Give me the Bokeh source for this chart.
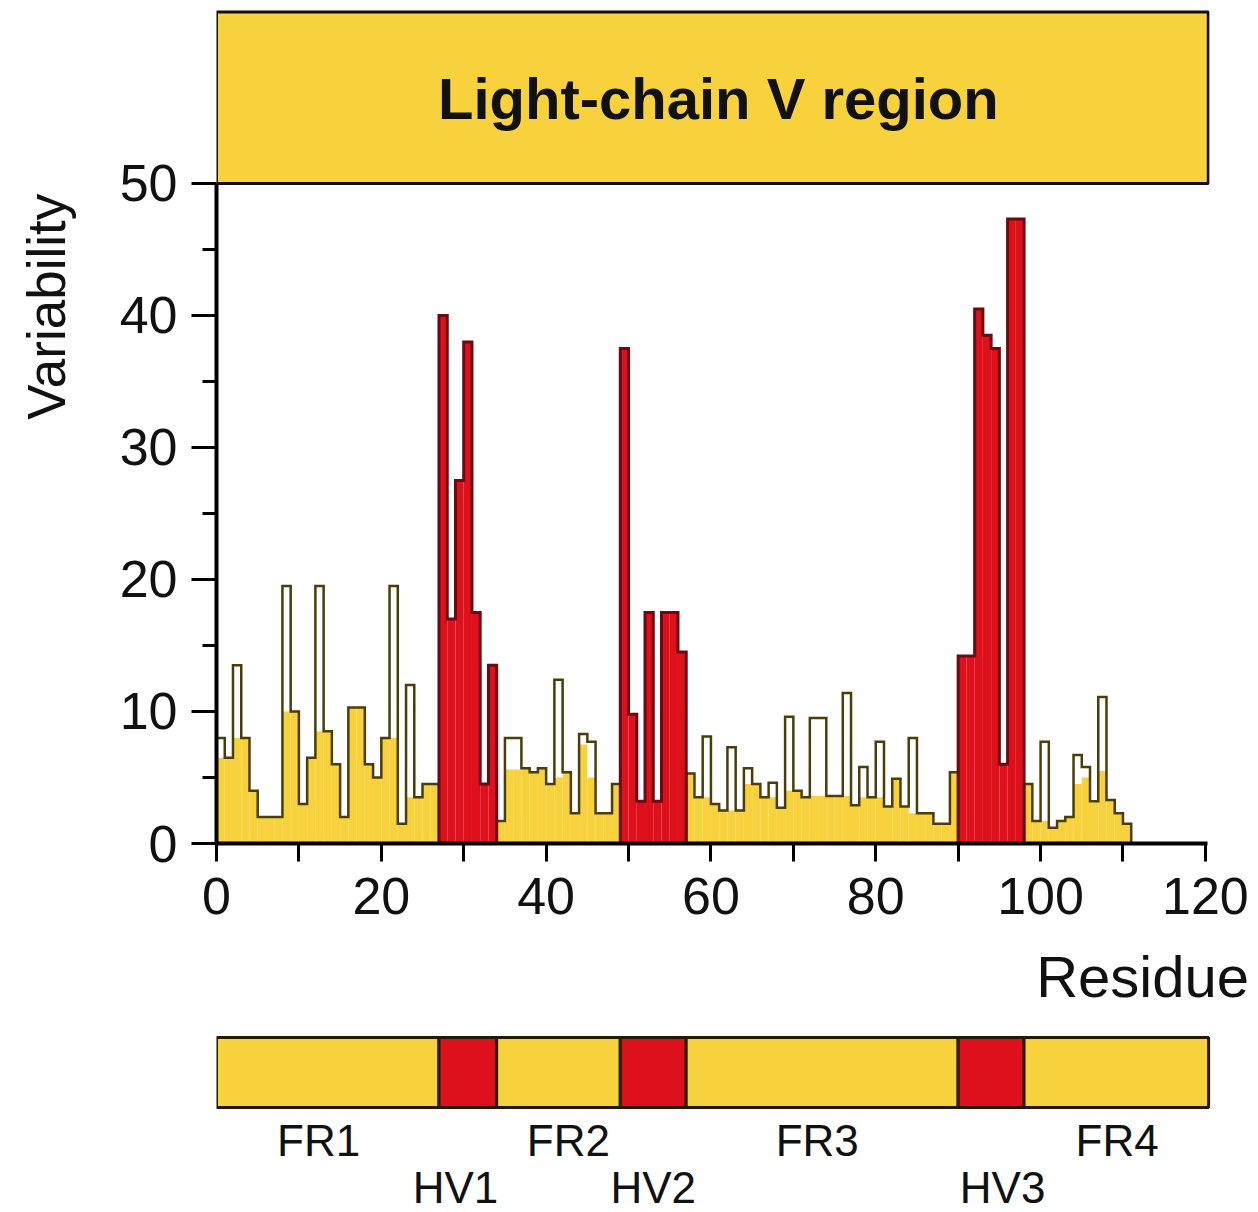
import math
from bokeh.plotting import figure
from bokeh.models import Range1d, FixedTicker
from bokeh.layouts import column, row
from bokeh.embed import file_html
from bokeh.resources import INLINE
from bokeh.core.properties import value

# ---------------- data ----------------
title_text = "Light-chain V region"
x_label = "Residue"
y_label = "Variability"

# variability per residue position (bar i spans residue i .. i+1)
variability = [
    8, 6.5, 13.5, 8, 4, 2, 2, 2, 19.5, 10,            # 0-9
    3, 6.5, 19.5, 8.5, 6, 2, 10.3, 10.3, 6, 5,        # 10-19
    8, 19.5, 1.5, 12, 3.5, 4.5, 4.5, 40, 17, 27.5,    # 20-29
    38, 17.5, 4.5, 13.5, 1.7, 8, 8, 5.7, 5.4, 5.7,    # 30-39
    4.5, 12.4, 5.4, 2.3, 8.3, 7.7, 2.3, 2.3, 4.5, 37.5,  # 40-49
    9.8, 3.2, 17.5, 3.2, 17.5, 17.5, 14.5, 5.3, 3.5, 8.1,  # 50-59
    3.0, 2.5, 7.3, 2.5, 5.7, 4.5, 3.5, 4.6, 2.7, 9.6,  # 60-69
    4.0, 3.5, 9.5, 9.5, 3.6, 3.6, 11.4, 2.9, 5.8, 3.5,  # 70-79
    7.7, 2.8, 4.9, 2.8, 8.0, 2.3, 2.3, 1.5, 1.5, 5.4,  # 80-89
    14.2, 14.2, 40.5, 38.5, 37.5, 6.0, 47.3, 47.3, 4.5, 1.7,  # 90-99
    7.7, 1.2, 1.7, 2.0, 6.7, 5.8, 3.2, 11.1, 3.3, 2.3,  # 100-109
    1.5,                                               # 110
]

# height of the solid coloured area under the outline
area_level = [
    6.5, 6.5, 8, 8, 4, 2, 2, 2, 10, 10,
    3, 6.5, 8.5, 8.5, 6, 2, 10.3, 10.3, 6, 5,
    8, 8, 1.5, 3.5, 3.5, 4.5, 4.5, 40, 17, 27.5,
    38, 17.5, 4.5, 13.5, 1.7, 5.6, 5.6, 5.7, 5.4, 5.7,
    4.5, 5.0, 5.4, 2.3, 7.5, 5.0, 2.3, 2.3, 4.5, 37.5,
    9.8, 3.2, 17.5, 3.2, 17.5, 17.5, 14.5, 5.3, 3.5, 3.5,
    3.0, 2.5, 2.5, 2.5, 4.5, 4.5, 3.5, 3.5, 2.7, 4.0,
    4.0, 3.5, 3.6, 3.6, 3.6, 3.6, 3.6, 2.9, 3.5, 3.5,
    3.5, 2.8, 4.9, 2.8, 2.3, 2.3, 2.3, 1.5, 1.5, 5.4,
    14.2, 14.2, 40.5, 38.5, 37.5, 6.0, 47.3, 47.3, 4.5, 1.7,
    1.7, 1.2, 1.7, 2.0, 4.5, 5.0, 3.2, 5.5, 3.3, 2.3,
    1.5,
]

region_names = ["FR1", "HV1", "FR2", "HV2", "FR3", "HV3", "FR4"]
region_start = [0, 27, 34, 49, 57, 90, 98]
region_end = [27, 34, 49, 57, 90, 98, 120.4]

y_ticks = [0, 10, 20, 30, 40, 50]
y_minor = [5, 15, 25, 35, 45]
x_ticks = [0, 20, 40, 60, 80, 100, 120]
x_minor = [10, 30, 50, 70, 90, 110]

# ---------------- style / layout ----------------
FONT = "Liberation Sans"
YELLOW = "#F7D23C"
RED = "#DE101B"
Y_EDGE = "#4a3d08"
R_EDGE = "#6a0a12"
INK = "#111111"

LEFT_W = 90          # strip holding the y-axis title
FRAME_L = 216        # page x of residue 0
TOP_H = 940          # height of upper block
PX_PER_RES = 8.24
# horizontal placement of the region captions (residue units)
LABEL_X = {"FR1": 12.4, "HV1": 29.0, "FR2": 42.7, "HV2": 53.0,
           "FR3": 72.9, "HV3": 95.4, "FR4": 109.3}

def is_hv(name):
    return name.startswith("HV")

def plain(fig):
    fig.grid.visible = False
    fig.outline_line_color = None
    fig.background_fill_color = "white"
    fig.border_fill_color = "white"

# ---------------- y-axis title strip ----------------
left = figure(width=LEFT_W, height=TOP_H,
              x_range=Range1d(0, LEFT_W), y_range=Range1d(TOP_H, 0),
              min_border=0, x_axis_type=None, y_axis_type=None,
              toolbar_location=None, output_backend="svg")
plain(left)
left.text(x=[46], y=[335], text=[y_label], angle=math.pi / 2,
          text_align="center", text_baseline="middle",
          text_font=value(FONT), text_font_size=value("53px"), text_color=INK)

# ---------------- main plot ----------------
p = figure(width=1250 - LEFT_W, height=TOP_H,
           x_range=Range1d(0, 120.5), y_range=Range1d(0, 63.18),
           min_border_left=FRAME_L - LEFT_W, min_border_right=41,
           min_border_top=9, min_border_bottom=97,
           toolbar_location=None, output_backend="svg")
plain(p)

n = len(variability)

# coloured areas
for name, a, b in zip(region_names, region_start, region_end):
    b = min(int(math.ceil(b)), n)
    idx = list(range(a, b))
    p.vbar(x=[i + 0.5 for i in idx], width=1.0, bottom=0,
           top=[area_level[i] for i in idx],
           fill_color=RED if is_hv(name) else YELLOW, line_color=None)

# step outlines (framework first, hypervariable on top)
order = sorted(range(len(region_names)), key=lambda k: is_hv(region_names[k]))
for k in order:
    name, a, b = region_names[k], region_start[k], region_end[k]
    b = min(int(math.ceil(b)), n)
    xs, ys = [a], [0]
    for i in range(a, b):
        xs += [i, i + 1]
        ys += [variability[i], variability[i]]
    xs.append(b)
    ys.append(0)
    p.line(xs, ys, line_color=R_EDGE if is_hv(name) else Y_EDGE,
           line_width=3 if is_hv(name) else 2.5, line_join="miter")

# title box
p.quad(left=[0], right=[120.35], bottom=[50], top=[63.0],
       fill_color=YELLOW, line_color="#111111", line_width=3)
p.text(x=[60.9], y=[56.4], text=[title_text], text_align="center",
       text_baseline="middle", text_font=value(FONT),
       text_font_style="bold", text_font_size=value("58px"), text_color=INK)

# axes
for ax in (p.xaxis, p.yaxis):
    ax.axis_line_width = 4
    ax.axis_line_color = "black"
    ax.major_tick_line_width = 3
    ax.minor_tick_line_width = 3
    ax.major_tick_line_color = "black"
    ax.minor_tick_line_color = "black"
    ax.major_tick_in = 0
    ax.minor_tick_in = 0
    ax.major_label_text_font = FONT
    ax.major_label_text_font_size = "52px"
    ax.major_label_text_color = INK

p.yaxis.ticker = FixedTicker(ticks=y_ticks, minor_ticks=y_minor)
p.yaxis.bounds = (0, 50)
p.yaxis.major_tick_out = 25
p.yaxis.minor_tick_out = 14
p.yaxis.major_label_standoff = 14

p.xaxis.ticker = FixedTicker(ticks=x_ticks, minor_ticks=x_minor)
p.xaxis.bounds = (0, 120.2)
p.xaxis.major_tick_out = 18
p.xaxis.minor_tick_out = 18
p.xaxis.major_label_standoff = 16

# ---------------- region bar + x-axis title ----------------
BOT_H = 272
q = figure(width=1250, height=BOT_H,
           x_range=Range1d(0, (1250 - FRAME_L) / PX_PER_RES),
           y_range=Range1d(BOT_H, 0),
           min_border_left=FRAME_L, min_border_right=0,
           min_border_top=0, min_border_bottom=0,
           x_axis_type=None, y_axis_type=None,
           toolbar_location=None, output_backend="svg")
plain(q)

q.text(x=[125.3], y=[36], text=[x_label], text_align="right",
       text_baseline="middle", text_font=value(FONT),
       text_font_size=value("58px"), text_color=INK)

q.quad(left=region_start, right=region_end, top=97, bottom=167,
       fill_color=[RED if is_hv(nm) else YELLOW for nm in region_names],
       line_color="#241a00", line_width=3)

fr = [nm for nm in region_names if not is_hv(nm)]
hv = [nm for nm in region_names if is_hv(nm)]
q.text(x=[LABEL_X[nm] for nm in fr], y=200, text=fr,
       text_align="center", text_baseline="middle", text_font=value(FONT),
       text_font_size=value("44px"), text_color=INK)
q.text(x=[LABEL_X[nm] for nm in hv], y=247, text=hv,
       text_align="center", text_baseline="middle", text_font=value(FONT),
       text_font_size=value("44px"), text_color=INK)

layout = column(row(left, p, spacing=0), q, spacing=0)
open("out.html", "w").write(file_html(layout, INLINE))
